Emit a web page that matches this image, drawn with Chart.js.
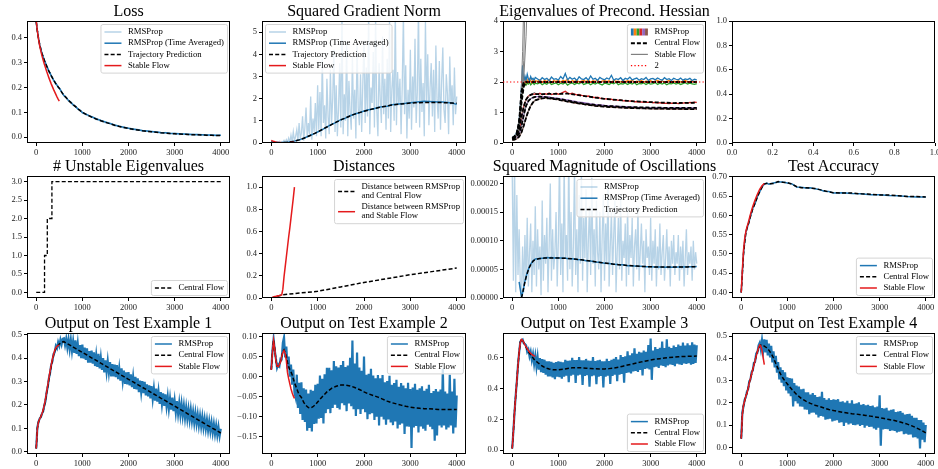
<!DOCTYPE html>
<html>
<head>
<meta charset="utf-8">
<title>RMSProp: central flow diagnostics</title>
<script src="https://cdn.jsdelivr.net/npm/chart.js@4.4.1/dist/chart.umd.min.js"></script>
<style>
  html, body { margin: 0; padding: 0; background: #fff; }
  body { position: relative; width: 938px; height: 469px; overflow: hidden;
         font-family: "Liberation Serif", "Times New Roman", serif; }
  canvas { position: absolute; }
  .title { position: absolute; width: 300px; text-align: center; font-size: 16px;
           line-height: 16px; color: #000; white-space: nowrap; }
</style>
</head>
<body>
<script>
// ---------- sample positions (training steps) ----------
function stepRange(a, b, s) { const r = []; for (let v = a; v <= b; v += s) r.push(v); return r; }
const denseSteps  = stepRange(0, 4000, 25);                       // raw RMSProp samples
const stableSteps = stepRange(0, 500, 25);                        // stable flow is integrated up to step 500
const flowSteps   = [...stepRange(0, 500, 25), ...stepRange(550, 1000, 50), ...stepRange(1100, 4000, 100)];
const eigSteps    = [...stepRange(0, 500, 25), ...stepRange(550, 4000, 50)];
const cfEigSteps  = [0,50,100,150,200,250,300,350,400,450,500,600,700,800,1000,1200,1400,1600,1800,2000,2500,3000,3500,4000];
const stepTicks   = [0, 1000, 2000, 3000, 4000];

// ---------- Loss ----------
const lossRaw = [0.465,0.43,0.397,0.37,0.354,0.334,0.324,0.307,0.299,0.284,0.277,0.263,0.258,0.245,0.24,0.228,0.224,0.213,0.21,0.2,0.198,
  0.183,0.166,0.160,0.146,0.141,0.129,0.125,0.113,0.109,0.098,
  0.088,0.083,0.071,0.068,0.058,0.056,0.046,0.045,0.037,0.037,0.030,0.031,0.024,0.026,0.020,0.022,0.016,0.019,0.013,0.016,0.011,0.013,0.009,0.012,0.008,0.010,0.007,0.009,0.006,0.008];
const lossAvg = [0.463,0.426,0.396,0.371,0.353,0.335,0.323,0.308,0.298,0.285,0.276,0.264,0.257,0.246,0.239,0.229,0.223,0.214,0.209,0.201,0.197,
  0.182,0.167,0.159,0.147,0.140,0.130,0.124,0.114,0.108,0.099,
  0.091,0.082,0.074,0.067,0.061,0.055,0.049,0.044,0.040,0.036,0.033,0.030,0.027,0.025,0.023,0.021,0.019,0.018,0.016,0.015,0.014,0.013,0.012,0.011,0.011,0.010,0.009,0.009,0.008,0.008];
const lossPred = [0.462,0.425,0.395,0.372,0.352,0.336,0.322,0.309,0.297,0.286,0.275,0.265,0.256,0.247,0.238,0.230,0.222,0.215,0.208,0.202,0.196,
  0.181,0.168,0.158,0.148,0.139,0.131,0.123,0.115,0.107,0.100,
  0.090,0.081,0.073,0.066,0.060,0.054,0.048,0.043,0.039,0.035,0.032,0.029,0.026,0.024,0.022,0.020,0.018,0.017,0.015,0.014,0.013,0.012,0.011,0.010,0.010,0.009,0.008,0.008,0.007,0.007];
const lossStable = [0.468,0.425,0.392,0.366,0.345,0.326,0.31,0.294,0.28,0.265,0.252,0.238,0.226,0.214,0.203,0.192,0.182,0.172,0.162,0.153,0.145];

// ---------- Squared gradient norm ----------
const gradRaw = [0.10,0.05,0.02,0.04,0.01,0.06,0.02,0.08,0.01,0.05,0.03,0.12,0.02,0.15,0.04,0.22,0.03,
  0.35,0.05,0.50,0.10,0.30,0.60,0.08,0.90,0.20,0.45,1.20,0.10,0.70,1.60,0.25,0.90,0.40,2.10,0.15,1.10,0.50,1.80,0.30,2.60,
  0.6,2.3,0.3,3.8,0.9,1.7,0.2,2.9,1.2,0.4,3.3,0.8,2.0,4.2,0.5,2.6,0.3,1.5,3.6,0.7,
  5.8,0.4,2.2,1.0,4.5,0.3,2.8,1.4,0.6,3.9,1.1,2.4,0.2,4.4,1.6,0.8,3.1,0.5,2.7,4.6,
  0.9,3.4,1.2,5.9,0.4,2.5,1.8,4.1,0.7,5.7,1.5,0.3,3.6,2.0,0.9,4.8,1.3,2.9,0.6,3.8,
  1.1,5.6,0.5,2.4,3.3,1.0,6.0,0.8,3.2,1.7,2.9,0.4,2.6,5.8,1.3,3.5,0.2,2.4,1.1,4.2,
  0.6,3.0,1.6,4.7,0.9,2.3,6.1,0.7,3.8,1.4,2.7,0.3,5.5,1.9,4.0,0.8,2.5,3.6,1.2,3.3,
  0.5,4.4,2.0,1.1,3.7,0.6,2.8,4.3,1.5,0.9,3.1,2.2,0.4,3.9,1.7,2.6,0.8,3.4,1.3,2.1];
const gradAvg = [0.06,0.05,0.04,0.03,0.025,0.02,0.018,0.016,0.016,0.017,0.019,0.021,0.024,0.028,0.033,0.039,0.046,0.054,0.063,0.073,0.084,
  0.11,0.14,0.176,0.214,0.257,0.304,0.351,0.399,0.447,0.498,
  0.60,0.73,0.84,0.93,1.05,1.12,1.23,1.31,1.36,1.44,1.50,1.53,1.60,1.64,1.66,1.72,1.75,1.77,1.79,1.82,1.84,1.86,1.88,1.87,1.86,1.85,1.85,1.83,1.80,1.74];
const gradPred = [0.03,0.02,0.015,0.01,0.01,0.01,0.01,0.01,0.012,0.014,0.016,0.019,0.022,0.026,0.031,0.037,0.044,0.052,0.061,0.071,0.082,
  0.11,0.14,0.175,0.215,0.258,0.303,0.35,0.398,0.448,0.5,
  0.61,0.72,0.83,0.94,1.04,1.13,1.22,1.30,1.37,1.43,1.49,1.54,1.59,1.63,1.67,1.71,1.74,1.76,1.78,1.80,1.81,1.82,1.83,1.83,1.83,1.83,1.82,1.81,1.80,1.79];
const gradStable = [0.12,0.095,0.075,0.058,0.045,0.035,0.028,0.022,0.018,0.015,0.013,0.012,0.011,0.011,0.012,0.013,0.015,0.018,0.021,0.025,0.03];

// ---------- Eigenvalues of the preconditioned Hessian (top 6) ----------
const eigBlue = [0.18,0.2,0.23,0.28,0.36,0.5,0.75,1.2,1.85,2.55,2.0,2.2,2.05,2.25,2.1,2.05,2.18,2.08,2.12,2.06,2.15,
  2.10,2.05,2.14,2.08,2.12,2.04,2.16,2.09,2.11,2.06, 2.18,2.10,2.28,2.07,2.15,2.09,2.13,2.05,2.17,2.10,
  2.08,2.14,2.06,2.20,2.09,2.12,2.05,2.15,2.10,2.07, 2.13,2.09,2.22,2.06,2.11,2.08,2.14,2.05,2.12,2.09,
  2.16,2.07,2.10,2.13,2.06,2.11,2.08,2.15,2.05,2.10, 2.12,2.07,2.13,2.09,2.06,2.14,2.08,2.11,2.05,2.12,
  2.09,2.07,2.13,2.06,2.10,2.08,2.12,2.05,2.09,2.07];
const eigOrange = [0.16,0.18,0.21,0.26,0.33,0.45,0.68,1.05,1.6,1.95,2.05,2.12,1.98,2.08,2.0,2.1,2.03,1.98,2.07,2.01,2.04,
  2.02,2.07,1.99,2.05,2.01,2.08,1.98,2.04,2.02,2.06, 2.00,2.05,2.03,2.09,1.99,2.04,2.02,2.06,2.00,2.03,
  2.05,2.01,2.07,1.99,2.04,2.02,2.06,2.00,2.03,2.05, 2.01,2.04,1.99,2.06,2.02,2.03,2.00,2.05,2.01,2.04,
  2.02,2.06,2.00,2.03,2.01,2.05,1.99,2.03,2.02,2.04, 2.00,2.03,2.05,2.01,2.04,1.99,2.02,2.05,2.00,2.03,
  2.01,2.04,2.00,2.03,2.05,2.01,2.02,2.04,2.00,2.03];
const eigGreen = [0.14,0.16,0.19,0.23,0.29,0.4,0.6,0.95,1.45,1.8,1.92,1.98,1.9,1.96,1.93,1.99,1.91,1.95,1.97,1.92,1.96,
  1.94,1.98,1.91,1.96,1.93,1.99,1.92,1.95,1.97,1.91, 1.96,1.93,1.98,1.90,1.95,1.97,1.92,1.96,1.94,1.99,
  1.92,1.95,1.97,1.91,1.96,1.93,1.98,1.94,1.90,1.96, 1.95,1.92,1.97,1.94,1.99,1.91,1.95,1.93,1.97,1.92,
  1.96,1.93,1.98,1.91,1.95,1.94,1.97,1.92,1.96,1.93, 1.95,1.98,1.92,1.96,1.93,1.97,1.91,1.95,1.94,1.97,
  1.93,1.96,1.92,1.95,1.98,1.93,1.96,1.94,1.92,1.95];
const eigRed = [0.15,0.16,0.18,0.21,0.26,0.34,0.45,0.62,0.85,1.03,1.2,1.33,1.42,1.49,1.53,1.56,1.58,1.6,1.61,1.6,1.62,
  1.60,1.63,1.58,1.62,1.60,1.64,1.59,1.61,1.63,1.60, 1.62,1.66,1.70,1.64,1.61,1.63,1.60,1.58,1.59,1.56,
  1.55,1.53,1.54,1.51,1.50,1.49,1.50,1.47,1.46,1.45, 1.45,1.43,1.44,1.41,1.42,1.40,1.41,1.38,1.39,1.38,
  1.37,1.38,1.35,1.36,1.34,1.35,1.33,1.34,1.33,1.34, 1.32,1.33,1.31,1.32,1.30,1.31,1.30,1.29,1.31,1.30,
  1.31,1.29,1.30,1.31,1.32,1.30,1.33,1.32,1.34,1.33];
const eigPurple = [0.14,0.15,0.16,0.18,0.21,0.26,0.32,0.42,0.55,0.73,0.92,1.08,1.22,1.31,1.38,1.42,1.45,1.47,1.49,1.5,1.52,
  1.52,1.53,1.51,1.52,1.50,1.51,1.49,1.48,1.47,1.46, 1.45,1.44,1.42,1.41,1.40,1.38,1.37,1.35,1.34,1.33,
  1.32,1.31,1.30,1.28,1.27,1.26,1.25,1.25,1.24,1.23, 1.22,1.22,1.21,1.20,1.21,1.19,1.20,1.18,1.19,1.18,
  1.17,1.18,1.17,1.16,1.17,1.16,1.15,1.16,1.17,1.15, 1.16,1.15,1.16,1.14,1.15,1.16,1.15,1.14,1.15,1.16,
  1.15,1.14,1.16,1.15,1.14,1.15,1.16,1.15,1.14,1.16];
const eigBrown = [0.1,0.1,0.11,0.12,0.14,0.17,0.21,0.27,0.35,0.45,0.57,0.7,0.83,0.95,1.05,1.14,1.22,1.28,1.33,1.37,1.4,
  1.43,1.45,1.46,1.47,1.47,1.46,1.45,1.44,1.43,1.42, 1.40,1.39,1.37,1.36,1.34,1.33,1.31,1.30,1.29,1.28,
  1.27,1.26,1.25,1.24,1.23,1.22,1.21,1.21,1.20,1.19, 1.19,1.18,1.18,1.17,1.17,1.16,1.16,1.15,1.15,1.15,
  1.14,1.14,1.15,1.13,1.14,1.13,1.14,1.12,1.13,1.13, 1.12,1.13,1.12,1.11,1.12,1.13,1.12,1.11,1.12,1.11,
  1.12,1.11,1.12,1.10,1.11,1.12,1.11,1.10,1.12,1.11];
const cfEig1 = [0.17,0.22,0.34,0.72,1.70,2.00,2.00,2.00,2.00,2.00,2.00,2.00,2.00,2.00,2.00,2.00,2.00,2.00,2.00,2.00,2.00,2.00,2.00,2.00];
const cfEig2 = [0.15,0.20,0.30,0.62,1.50,1.95,2.00,2.00,2.00,2.00,2.00,2.00,2.00,2.00,2.00,2.00,2.00,2.00,2.00,2.00,2.00,2.00,2.00,2.00];
const cfEig3 = [0.13,0.18,0.27,0.55,1.30,1.85,1.99,2.00,2.00,2.00,2.00,2.00,2.00,2.00,2.00,2.00,2.00,2.00,2.00,2.00,2.00,2.00,2.00,2.00];
const cfEig4 = [0.15,0.18,0.26,0.45,0.85,1.2,1.42,1.53,1.58,1.6,1.6,1.6,1.6,1.61,1.61,1.62,1.58,1.53,1.49,1.45,1.38,1.34,1.31,1.32];
const cfEig5 = [0.14,0.16,0.21,0.32,0.55,0.92,1.22,1.38,1.45,1.49,1.51,1.52,1.51,1.48,1.45,1.39,1.33,1.28,1.25,1.22,1.18,1.16,1.15,1.15];
const cfEig6 = [0.1,0.11,0.14,0.21,0.35,0.57,0.83,1.05,1.22,1.33,1.40,1.45,1.47,1.46,1.42,1.36,1.31,1.26,1.22,1.19,1.15,1.13,1.12,1.11];
const sfEigSteps1 = [0,50,100,150,200,225,250];
const sfEig1 = [0.17,0.22,0.34,0.75,1.9,3.0,4.6];
const sfEigSteps2 = [0,50,100,150,200,250,275];
const sfEig2 = [0.15,0.2,0.3,0.62,1.5,2.7,4.5];
const sfEigSteps3 = [0,50,100,150,200,250,300,325];
const sfEig3 = [0.13,0.18,0.27,0.55,1.3,2.1,3.5,4.6];
const sfEigStepsLow = [0,100,200,300,400,500];
const sfEig4 = [0.15,0.26,0.85,1.42,1.6,1.66];
const sfEig5 = [0.14,0.21,0.55,1.22,1.46,1.53];
const sfEig6 = [0.1,0.14,0.35,0.83,1.22,1.41];
const stabilityThreshold = 2;

// ---------- # unstable eigenvalues ----------
const unstableSteps = [0, 180, 240, 340, 4000];
const unstableCount = [0, 1, 2, 3, 3];

// ---------- Distances ----------
const distSteps = [0,250,500,1000,1500,2000,2500,3000,3500,4000];
const distCentral = [0,0.03,0.04,0.06,0.1,0.14,0.175,0.21,0.24,0.27];
const distStable = [0,0.005,0.01,0.013,0.015,0.018,0.02,0.022,0.025,0.028,0.08,0.19,0.28,0.37,0.46,0.55,0.63,0.72,0.81,0.9,1.0];

// ---------- Squared magnitude of oscillations ----------
const oscRaw = [0.00022,0.00003,0.00025,0.00001,0.00018,0.00004,0.00012,0.00002,0.000005,
  0.00009,0.00001,0.00011,0.00003,0.00014,0.00002,0.00008,0.00013,0.00001,0.00010,0.00004,0.00016,
  0.00002,0.00012,0.00005,0.00009,0.000005,0.00017,0.00003,0.00011,0.00006,0.00014,0.00001,0.00009,0.00020,0.00003,0.00012,0.00005,0.00008,0.00015,0.00002,0.00010,
  0.00025,0.00004,0.00013,0.00001,0.00024,0.00007,0.00011,0.00003,0.00026,0.00005,0.00015,0.00002,0.00009,0.00023,0.00004,0.00012,0.00001,0.00018,0.00006,0.00022,
  0.00003,0.00014,0.00007,0.00019,0.00001,0.00010,0.00016,0.00004,0.00021,0.00006,0.00012,0.00002,0.00017,0.00008,0.00005,0.00015,0.00001,0.00011,0.00018,0.00003,
  0.00013,0.00006,0.00020,0.00002,0.00009,0.00015,0.00004,0.00011,0.00017,0.00001,0.00008,0.00014,0.00005,0.00018,0.00003,0.00010,0.00007,0.00013,0.00002,0.00016,
  0.00004,0.00011,0.00007,0.00014,0.00002,0.00009,0.00012,0.00005,0.00016,0.00003,0.00008,0.00013,0.00006,0.00010,0.00001,0.00012,0.00007,0.00009,0.00004,0.00014,
  0.00003,0.00010,0.00006,0.00012,0.00002,0.00009,0.00005,0.00013,0.00004,0.00008,0.00011,0.00003,0.00007,0.00012,0.00005,0.00009,0.00002,0.00010,0.00006,0.00011,
  0.00004,0.00008,0.00006,0.00011,0.00003,0.00009,0.00005,0.00010,0.00002,0.00007,0.00012,0.00004,0.00008,0.00006,0.00009,0.00003,0.00010,0.00005,0.00008,0.00006];
const oscAvgSteps = flowSteps.slice(6);     // from step 150
const oscAvg = [0.000028,0.000015,0.000002,0.000009,0.000019,0.000029,0.000037,0.000044,0.00005,0.000055,0.000059,0.000062,0.000065,0.000066,0.000068,
  0.0000685,0.000069,0.0000695,0.00007,0.0000705,0.0000702,0.0000705,0.00007,0.0000702,0.0000698,
  0.0000697,0.0000688,0.0000685,0.0000672,0.0000668,0.0000652,0.0000647,0.000063,0.0000623,0.0000608,0.0000601,0.0000588,0.0000583,0.000058,0.0000565,
  0.0000563,0.0000555,0.0000553,0.0000546,0.0000546,0.000054,0.0000541,0.0000538,0.0000541,0.0000539,0.0000542,0.000054,0.0000544,0.0000544,0.000055];
const oscPredSteps = flowSteps.slice(8);    // from step 200
const oscPred = [0,0.000008,0.000018,0.000028,0.000036,0.000043,0.000049,0.000054,0.000058,0.000061,0.000064,0.000066,0.000067,
  0.000068,0.0000688,0.0000693,0.0000697,0.00007,0.00007,0.00007,0.00007,0.00007,0.0000698,
  0.0000695,0.000069,0.0000683,0.0000675,0.0000667,0.0000656,0.0000645,0.0000633,0.0000621,0.000061,0.00006,0.000059,0.0000582,0.0000575,0.0000568,
  0.0000562,0.0000557,0.0000552,0.0000548,0.0000545,0.0000542,0.000054,0.000054,0.000054,0.000054,0.0000541,0.0000542,0.0000543,0.0000545,0.0000547];

// ---------- Test accuracy ----------
const accSteps = [0,25,50,75,100,125,150,200,250,300,350,400,450,500,550,600,700,800,900,1000,1100,1200,1300,1400,1500,1600,1700,1800,1900,2000,2200,2400,2600,2800,3000,3200,3400,3600,3800,4000];
const accRms = [0.40,0.452,0.502,0.532,0.556,0.566,0.576,0.597,0.618,0.631,0.649,0.661,0.674,0.681,0.684,0.681,0.684,0.687,0.687,0.684,0.682,0.674,0.673,0.671,0.672,0.669,0.667,0.663,0.662,0.658,0.659,0.657,0.656,0.654,0.654,0.652,0.651,0.649,0.648,0.648];
const accCentral = [0.40,0.45,0.50,0.53,0.555,0.567,0.575,0.598,0.617,0.632,0.648,0.662,0.673,0.682,0.683,0.682,0.683,0.688,0.686,0.685,0.681,0.675,0.672,0.672,0.671,0.670,0.667,0.664,0.661,0.659,0.658,0.658,0.656,0.655,0.653,0.653,0.651,0.649,0.649,0.648];
const accStableSteps = [0,25,50,75,100,125,150,200,250,300,350,400,450,500];
const accStable = [0.40,0.46,0.51,0.54,0.558,0.57,0.58,0.603,0.623,0.64,0.655,0.668,0.677,0.683];

// ---------- Network output on four test examples ----------
const out1Rms = [0.014,0.105,0.128,0.142,0.148,0.163,0.172,0.198,0.216,0.254,0.276,0.314,0.336,0.372,0.385,0.418,0.424,0.452,0.442,0.468,0.452,0.478,0.458,0.482,
  0.484,0.455,0.482,0.444,0.480,0.437,0.478,0.430,0.472,0.422,0.476,0.418,0.462,0.408,0.455,0.400,
  0.458,0.398,0.445,0.392,0.441,0.380,0.430,0.380,0.432,0.376,0.424,0.366,0.413,0.362,0.418,0.356,
  0.402,0.350,0.400,0.339,0.390,0.340,0.388,0.338,0.383,0.322,0.374,0.322,0.372,0.318,0.370,0.310,
  0.356,0.304,0.356,0.302,0.346,0.290,0.339,0.288,0.340,0.283,0.330,0.276,0.321,0.268,0.320,0.266,
  0.313,0.254,0.304,0.254,0.302,0.250,0.298,0.241,0.288,0.236,0.283,0.228,0.280,0.226,0.270,0.218,
  0.270,0.214,0.258,0.204,0.255,0.203,0.249,0.196,0.245,0.193,0.236,0.183,0.228,0.180,0.231,0.173,
  0.218,0.168,0.216,0.163,0.208,0.157,0.204,0.153,0.196,0.144,0.189,0.140,0.182,0.136,0.180,0.131,
  0.170,0.123,0.166,0.120,0.159,0.113,0.153,0.108,0.149,0.103,0.141,0.098,0.136,0.092,0.130,0.088,
  0.125,0.081,0.118,0.076,0.112,0.071,0.106,0.067,0.098];
const out1Central = [0.014,0.10,0.128,0.14,0.15,0.162,0.175,0.195,0.22,0.25,0.28,0.31,0.34,0.365,0.39,0.41,0.43,0.44,0.45,0.455,0.46,
  0.468,0.470,0.464,0.4585,0.453,0.447,0.441,0.436,0.430,0.424,
  0.413,0.401,0.390,0.378,0.367,0.355,0.344,0.332,0.321,0.309,0.298,0.287,0.275,0.264,0.252,0.241,0.229,0.218,0.206,0.195,0.183,0.172,0.160,0.149,0.137,0.126,0.114,0.103,0.092,0.080];
const out1Stable = [0.014,0.10,0.128,0.14,0.15,0.163,0.178,0.2,0.225,0.255,0.285,0.315,0.345,0.37,0.395,0.415,0.432,0.443,0.45,0.453,0.455];

const out2Rms = [0.018,0.065,0.094,0.066,0.045,0.022,0.030,0.026,0.045,0.044,0.085,0.098,0.048,0.075,0.020,0.050,0.000,0.030,-0.020,0.018,-0.040,
  -0.052,0.005,-0.078,-0.015,-0.093,-0.014,-0.108,-0.029,-0.113,-0.032,-0.135,-0.042,-0.128,-0.033,-0.137,-0.035,
  -0.118,-0.020,-0.117,-0.018,-0.105,0.003,-0.103,-0.005,-0.117,0.006,-0.091,0.022,-0.081,0.022,-0.091,0.016,
  -0.078,0.039,-0.070,0.026,-0.078,0.023,-0.082,0.029,-0.066,0.039,-0.071,0.024,-0.086,0.028,-0.067,0.047,
  -0.074,0.090,-0.081,0.033,-0.098,0.060,-0.081,0.023,-0.093,0.015,-0.081,0.050,-0.089,0.005,-0.106,0.007,
  -0.094,0.020,-0.091,0.003,-0.108,-0.004,-0.100,0.004,-0.122,-0.004,-0.100,0.004,-0.107,-0.014,-0.120,-0.011,
  -0.107,0.002,-0.114,-0.020,-0.121,-0.016,-0.112,-0.008,-0.129,-0.025,-0.120,-0.016,-0.117,-0.022,-0.143,-0.029,
  -0.124,-0.015,-0.125,-0.031,-0.178,-0.027,-0.127,-0.018,-0.123,-0.033,-0.139,-0.029,-0.124,-0.024,-0.130,-0.035,
  -0.135,-0.030,-0.120,-0.020,-0.125,-0.041,-0.131,-0.036,-0.160,-0.031,-0.147,-0.037,-0.122,-0.032,-0.127,0.020,
  -0.122,-0.037,-0.132,-0.042,-0.127,0.005,-0.122,-0.037,-0.142,-0.005,-0.127,-0.047];
const out2Central = [0.017,0.06,0.092,0.07,0.04,0.026,0.025,0.03,0.037,0.05,0.062,0.067,0.06,0.05,0.035,0.025,0.018,0.012,0.005,-0.005,-0.015,
  -0.030,-0.045,-0.052,-0.064,-0.072,-0.077,-0.078,-0.075,-0.070,-0.063,
  -0.050,-0.038,-0.029,-0.024,-0.021,-0.021,-0.023,-0.027,-0.032,-0.038,-0.043,-0.047,-0.051,-0.056,-0.061,-0.065,-0.068,-0.071,-0.074,-0.076,-0.078,-0.079,-0.080,-0.080,-0.081,-0.082,-0.082,-0.082,-0.082,-0.082];
const out2Stable = [0.017,0.06,0.09,0.068,0.04,0.026,0.025,0.03,0.037,0.05,0.06,0.065,0.058,0.04,0.01,-0.005,-0.018,-0.03,-0.04,-0.048,-0.054];

const out3Rms = [0.010,0.125,0.245,0.355,0.445,0.555,0.635,0.705,0.715,0.720,0.695,0.690,
  0.682,0.640,0.655,0.610,0.640,0.585,0.625,0.560,0.613,0.541,0.605,0.524,0.598,0.507,0.592,0.502,
  0.588,0.490,0.577,0.479,0.577,0.480,0.574,0.473,0.567,0.462,0.572,0.477,0.578,0.474,0.575,0.465,
  0.571,0.477,0.588,0.484,0.581,0.442,0.583,0.484,0.600,0.490,0.586,0.436,0.586,0.486,0.605,0.490,
  0.585,0.424,0.584,0.483,0.593,0.488,0.582,0.412,0.581,0.481,0.605,0.485,0.579,0.429,0.584,0.478,
  0.588,0.483,0.578,0.408,0.578,0.478,0.594,0.484,0.580,0.431,0.587,0.483,0.594,0.490,0.606,0.448,
  0.589,0.491,0.618,0.495,0.606,0.438,0.610,0.502,0.643,0.505,0.617,0.498,0.630,0.512,0.663,0.515,
  0.627,0.509,0.640,0.522,0.634,0.485,0.647,0.528,0.640,0.531,0.683,0.524,0.726,0.457,0.648,0.540,
  0.671,0.542,0.658,0.534,0.665,0.551,0.707,0.548,0.664,0.540,0.721,0.551,0.672,0.558,0.664,0.554,
  0.680,0.546,0.671,0.562,0.687,0.558,0.678,0.554,0.699,0.564,0.680,0.560,0.695,0.565,0.681,0.556,
  0.701,0.561,0.687,0.567,0.682];
const out3Central = [0.01,0.12,0.25,0.35,0.45,0.55,0.64,0.70,0.72,0.715,0.70,0.685,0.67,0.655,0.64,0.63,0.62,0.61,0.60,0.59,0.583,
  0.57,0.558,0.547,0.538,0.532,0.527,0.524,0.522,0.522,0.523,
  0.526,0.531,0.535,0.536,0.535,0.533,0.531,0.529,0.528,0.528,0.53,0.534,0.539,0.546,0.553,0.56,0.567,0.574,0.58,0.586,0.591,0.595,0.599,0.602,0.605,0.607,0.609,0.61,0.611,0.612];
const out3Stable = [0.01,0.12,0.25,0.35,0.45,0.55,0.64,0.70,0.72,0.715,0.70,0.685,0.672,0.66,0.648,0.638,0.63,0.623,0.617,0.613,0.61];

const out4Rms = [0.040,0.160,0.185,0.215,0.226,0.252,0.262,0.298,0.305,0.338,0.345,0.380,0.385,0.422,0.425,0.458,
  0.470,0.440,0.482,0.433,0.485,0.427,0.483,0.413,0.467,0.405,0.457,0.382,0.432,0.360,0.412,0.336,
  0.383,0.306,0.360,0.291,0.348,0.275,0.338,0.256,0.315,0.243,0.312,0.231,0.310,0.184,0.289,0.208,
  0.278,0.198,0.274,0.185,0.261,0.183,0.264,0.171,0.248,0.170,0.248,0.150,0.238,0.156,0.244,0.157,
  0.235,0.148,0.227,0.135,0.229,0.142,0.250,0.139,0.222,0.125,0.214,0.127,0.221,0.130,0.213,0.117,
  0.216,0.120,0.214,0.123,0.217,0.111,0.205,0.114,0.208,0.097,0.202,0.111,0.210,0.104,0.199,0.108,
  0.212,0.101,0.196,0.100,0.199,0.104,0.203,0.097,0.192,0.101,0.195,0.089,0.189,0.098,0.192,0.092,
  0.186,0.094,0.188,0.086,0.180,0.080,0.184,0.089,0.234,0.008,0.177,0.081,0.175,0.084,0.178,0.082,
  0.166,0.075,0.169,0.077,0.171,0.075,0.159,0.068,0.162,0.071,0.164,0.073,0.156,0.060,0.148,0.062,
  0.150,0.058,0.151,0.059,0.142,0.045,0.133,0.046,0.133,0.041,0.123,-0.004,0.123,0.035,0.112,0.024,
  0.101];
const out4Central = [0.04,0.15,0.19,0.21,0.23,0.245,0.265,0.29,0.31,0.33,0.35,0.37,0.39,0.41,0.43,0.445,0.455,0.46,0.46,0.458,0.455,
  0.448,0.437,0.422,0.402,0.377,0.353,0.33,0.313,0.298,0.285,
  0.26,0.238,0.221,0.208,0.198,0.19,0.184,0.177,0.171,0.166,0.162,0.158,0.155,0.152,0.15,0.147,0.144,0.141,0.137,0.134,0.130,0.126,0.122,0.117,0.111,0.105,0.097,0.088,0.078,0.066];
const out4Stable = [0.04,0.15,0.19,0.21,0.23,0.245,0.265,0.29,0.31,0.33,0.35,0.37,0.39,0.41,0.43,0.448,0.46,0.455,0.435,0.405,0.372];

// ---------- styling & layout ----------
const FONT = '"Liberation Serif", "Times New Roman", serif';
const BLUE = '#1f77b4', LIGHT = 'rgba(31,119,180,0.32)', RED = '#e41a1c', GREY = '#808080';
const TAB6 = ['#1f77b4', '#ff7f0e', '#2ca02c', '#d62728', '#9467bd', '#8c564b'];
const DASH = [4, 2.2];
const COLS = [[27, 230], [262, 466], [503, 706], [732, 935]];
const ROWS = [[21, 143], [176, 298], [333, 454]];
const ML = 44, MR = 10, MT = 8, MB = 22;

Chart.defaults.font.family = FONT;
Chart.defaults.color = '#000';

function series(xs, ys, color, extra) {
  return Object.assign({
    data: ys.map((y, i) => ({ x: xs[i], y })),
    borderColor: color, borderWidth: 1.5, pointRadius: 0, fill: false, tension: 0
  }, extra || {});
}

function roundedRect(ctx, x, y, w, h, r) {
  ctx.moveTo(x + r, y);
  ctx.arcTo(x + w, y, x + w, y + h, r);
  ctx.arcTo(x + w, y + h, x, y + h, r);
  ctx.arcTo(x, y + h, x, y, r);
  ctx.arcTo(x, y, x + w, y, r);
  ctx.closePath();
}

// full box around the plotting area
const framePlugin = {
  id: 'frame',
  afterDatasetsDraw(chart) {
    const { ctx, chartArea: a } = chart;
    ctx.save();
    ctx.strokeStyle = '#000';
    ctx.lineWidth = 1;
    ctx.strokeRect(Math.round(a.left) + 0.5, Math.round(a.top) + 0.5,
                   Math.round(a.right - a.left) - 1, Math.round(a.bottom - a.top) - 1);
    ctx.restore();
  }
};

// horizontal reference line at a y value
const refLinePlugin = {
  id: 'refLine',
  afterDatasetsDraw(chart, args, opts) {
    if (!opts || opts.value === undefined) return;
    const { ctx, chartArea: a } = chart;
    const y = chart.scales.y.getPixelForValue(opts.value);
    ctx.save();
    ctx.beginPath();
    ctx.rect(a.left, a.top, a.right - a.left, a.bottom - a.top);
    ctx.clip();
    ctx.strokeStyle = opts.color;
    ctx.lineWidth = 1.2;
    ctx.setLineDash([1.3, 2.2]);
    ctx.beginPath();
    ctx.moveTo(a.left, y);
    ctx.lineTo(a.right, y);
    ctx.stroke();
    ctx.restore();
  }
};

// legend drawn inside the plotting area
const boxLegendPlugin = {
  id: 'boxLegend',
  afterDraw(chart, args, opts) {
    const items = opts && opts.items;
    if (!items || !items.length) return;
    const ctx = chart.ctx, a = chart.chartArea;
    const fs = 8.7, lh = 9, gap = 2.2, pad = 3, hl = 17, tp = 6.5, inset = 3;
    ctx.save();
    ctx.font = fs + 'px ' + FONT;
    let tw = 0, h = 2 * pad;
    items.forEach((it, i) => {
      const lines = it.label.split('\n');
      lines.forEach(l => { tw = Math.max(tw, ctx.measureText(l).width); });
      h += lines.length * lh + (i ? gap : 0);
    });
    const w = pad + hl + tp + tw + pad + 1;
    const x = opts.loc[1] === 'r' ? a.right - inset - w : a.left + inset;
    const y = opts.loc[0] === 'u' ? a.top + inset : a.bottom - inset - h;
    ctx.beginPath();
    roundedRect(ctx, x + 0.5, y + 0.5, w, h, 2);
    ctx.fillStyle = 'rgba(255,255,255,0.8)';
    ctx.fill();
    ctx.strokeStyle = '#d4d4d4';
    ctx.lineWidth = 1;
    ctx.stroke();
    let cy = y + pad;
    items.forEach(it => {
      const lines = it.label.split('\n');
      const mid = cy + lines.length * lh / 2 + 0.5;
      const hx = x + pad + 1;
      if (it.multi) {
        const sw = hl / it.multi.length;
        it.multi.forEach((c, k) => { ctx.fillStyle = c; ctx.fillRect(hx + k * sw, mid - 3.5, sw, 7); });
      } else {
        ctx.beginPath();
        ctx.setLineDash(it.dash || []);
        ctx.strokeStyle = it.color;
        ctx.lineWidth = it.width || 1.5;
        ctx.moveTo(hx, mid);
        ctx.lineTo(hx + hl, mid);
        ctx.stroke();
        ctx.setLineDash([]);
      }
      ctx.fillStyle = '#000';
      ctx.textBaseline = 'middle';
      ctx.textAlign = 'left';
      lines.forEach((l, k) => ctx.fillText(l, hx + hl + tp, cy + k * lh + lh / 2 + 0.5));
      cy += lines.length * lh + gap;
    });
    ctx.restore();
  }
};

Chart.register(framePlugin, refLinePlugin, boxLegendPlugin);

function tickFormat(dec) {
  return v => (Math.abs(v) < 1e-12 ? 0 : v).toFixed(dec).replace('-', '\u2212');
}

function axisOptions(spec, horizontal) {
  return {
    type: 'linear', min: spec.min, max: spec.max, bounds: 'data',
    afterBuildTicks: s => { s.ticks = spec.ticks.map(v => ({ value: v })); },
    afterFit: s => { if (horizontal) s.height = MB; else s.width = ML; },
    ticks: { callback: tickFormat(spec.dec), autoSkip: false, maxRotation: 0, minRotation: 0,
             padding: horizontal ? 1.5 : 2, color: '#1a1a1a', font: { size: 8.5, family: FONT } },
    grid: { display: true, drawOnChartArea: false, drawTicks: true, tickLength: 3, tickWidth: 1, tickColor: '#000' },
    border: { display: false }
  };
}

const stepAxis = { min: -200, max: 4200, ticks: stepTicks, dec: 0 };

function addPanel(col, row, p) {
  const [x0, x1] = COLS[col], [y0, y1] = ROWS[row];
  const W = x1 - x0 + ML + MR, H = y1 - y0 + MT + MB;
  const cv = document.createElement('canvas');
  cv.width = W; cv.height = H;
  cv.style.left = (x0 - ML) + 'px'; cv.style.top = (y0 - MT) + 'px';
  cv.style.width = W + 'px'; cv.style.height = H + 'px';
  document.body.appendChild(cv);

  const t = document.createElement('div');
  t.className = 'title';
  t.textContent = p.title;
  t.style.left = ((x0 + x1) / 2 - 150) + 'px';
  t.style.top = (y0 - 18) + 'px';
  document.body.appendChild(t);

  new Chart(cv, {
    type: 'line',
    data: { datasets: p.datasets || [] },
    options: {
      responsive: false, animation: false, devicePixelRatio: 1, events: [],
      parsing: false, normalized: true,
      layout: { padding: { left: 0, top: MT, right: MR, bottom: 0 } },
      plugins: {
        legend: { display: false }, tooltip: { enabled: false }, title: { display: false },
        boxLegend: p.legend || {}, refLine: p.ref || {}
      },
      scales: { x: axisOptions(p.x || stepAxis, true), y: axisOptions(p.y, false) }
    }
  });
}

const rmsLegend = [
  { label: 'RMSProp', color: LIGHT },
  { label: 'RMSProp (Time Averaged)', color: BLUE },
  { label: 'Trajectory Prediction', color: '#000', dash: DASH },
  { label: 'Stable Flow', color: RED }
];
const outLegend = [
  { label: 'RMSProp', color: BLUE },
  { label: 'Central Flow', color: '#000', dash: DASH },
  { label: 'Stable Flow', color: RED }
];

// Row 1
addPanel(0, 0, {
  title: 'Loss',
  y: { min: -0.023, max: 0.466, ticks: [0, 0.1, 0.2, 0.3, 0.4], dec: 1 },
  legend: { loc: 'ur', items: rmsLegend },
  datasets: [
    series(stableSteps, lossStable, RED),
    series(flowSteps, lossPred, '#000', { borderDash: DASH }),
    series(flowSteps, lossAvg, BLUE),
    series(flowSteps, lossRaw, LIGHT)
  ]
});
addPanel(1, 0, {
  title: 'Squared Gradient Norm',
  y: { min: 0, max: 5.5, ticks: [0, 1, 2, 3, 4, 5], dec: 0 },
  legend: { loc: 'ul', items: rmsLegend },
  datasets: [
    series(stableSteps, gradStable, RED),
    series(flowSteps, gradPred, '#000', { borderDash: DASH }),
    series(flowSteps, gradAvg, BLUE),
    series(denseSteps, gradRaw, LIGHT, { borderWidth: 1.3 })
  ]
});
addPanel(2, 0, {
  title: 'Eigenvalues of Precond. Hessian',
  y: { min: 0, max: 4, ticks: [0, 1, 2, 3, 4], dec: 0 },
  ref: { value: stabilityThreshold, color: '#ff0000' },
  legend: { loc: 'ur', items: [
    { label: 'RMSProp', multi: TAB6 },
    { label: 'Central Flow', color: '#000', dash: [4, 2], width: 2 },
    { label: 'Stable Flow', color: GREY, width: 1.2 },
    { label: String(stabilityThreshold), color: '#ff0000', dash: [1.3, 2.2], width: 1.2 }
  ] },
  datasets: [
    ...[cfEig1, cfEig2, cfEig3, cfEig4, cfEig5, cfEig6].map(v => series(cfEigSteps, v, '#000', { borderDash: [4, 2], borderWidth: 1.8 })),
    series(sfEigSteps1, sfEig1, GREY, { borderWidth: 1 }),
    series(sfEigSteps2, sfEig2, GREY, { borderWidth: 1 }),
    series(sfEigSteps3, sfEig3, GREY, { borderWidth: 1 }),
    series(sfEigStepsLow, sfEig4, GREY, { borderWidth: 1 }),
    series(sfEigStepsLow, sfEig5, GREY, { borderWidth: 1 }),
    series(sfEigStepsLow, sfEig6, GREY, { borderWidth: 1 }),
    ...[eigBlue, eigOrange, eigGreen, eigRed, eigPurple, eigBrown].map((v, i) => series(eigSteps, v, TAB6[i], { borderWidth: 1.3 }))
  ]
});
addPanel(3, 0, {
  title: '',
  x: { min: 0, max: 1, ticks: [0, 0.2, 0.4, 0.6, 0.8, 1.0], dec: 1 },
  y: { min: 0, max: 1, ticks: [0, 0.2, 0.4, 0.6, 0.8, 1.0], dec: 1 },
  datasets: []
});

// Row 2
addPanel(0, 1, {
  title: '# Unstable Eigenvalues',
  y: { min: -0.15, max: 3.15, ticks: [0, 0.5, 1, 1.5, 2, 2.5, 3], dec: 1 },
  legend: { loc: 'lr', items: [{ label: 'Central Flow', color: '#000', dash: DASH, width: 1.3 }] },
  datasets: [series(unstableSteps, unstableCount, '#000', { borderDash: DASH, borderWidth: 1.3, stepped: 'before' })]
});
addPanel(1, 1, {
  title: 'Distances',
  y: { min: 0, max: 1.1, ticks: [0, 0.2, 0.4, 0.6, 0.8, 1.0], dec: 1 },
  legend: { loc: 'ur', items: [
    { label: 'Distance between RMSProp\nand Central Flow', color: '#000', dash: DASH },
    { label: 'Distance between RMSProp\nand Stable Flow', color: RED }
  ] },
  datasets: [
    series(stableSteps, distStable, RED),
    series(distSteps, distCentral, '#000', { borderDash: DASH })
  ]
});
addPanel(2, 1, {
  title: 'Squared Magnitude of Oscillations',
  y: { min: 0, max: 0.000213, ticks: [0, 0.00005, 0.0001, 0.00015, 0.0002], dec: 5 },
  legend: { loc: 'ur', items: rmsLegend.slice(0, 3) },
  datasets: [
    series(oscPredSteps, oscPred, '#000', { borderDash: DASH }),
    series(oscAvgSteps, oscAvg, BLUE),
    series(denseSteps, oscRaw, LIGHT, { borderWidth: 1.3 })
  ]
});
addPanel(3, 1, {
  title: 'Test Accuracy',
  y: { min: 0.3856, max: 0.7024, ticks: [0.40, 0.45, 0.50, 0.55, 0.60, 0.65, 0.70], dec: 2 },
  legend: { loc: 'lr', items: outLegend },
  datasets: [
    series(accStableSteps, accStable, RED),
    series(accSteps, accCentral, '#000', { borderDash: DASH }),
    series(accSteps, accRms, BLUE)
  ]
});

// Row 3
const outputs = [
  { title: 'Output on Test Example 1', rms: out1Rms, cf: out1Central, sf: out1Stable, loc: 'ur',
    y: { min: -0.0096, max: 0.507, ticks: [0, 0.1, 0.2, 0.3, 0.4, 0.5], dec: 1 } },
  { title: 'Output on Test Example 2', rms: out2Rms, cf: out2Central, sf: out2Stable, loc: 'ur',
    y: { min: -0.193, max: 0.109, ticks: [-0.15, -0.10, -0.05, 0, 0.05, 0.10], dec: 2 } },
  { title: 'Output on Test Example 3', rms: out3Rms, cf: out3Central, sf: out3Stable, loc: 'lr',
    y: { min: -0.026, max: 0.762, ticks: [0, 0.2, 0.4, 0.6], dec: 1 } },
  { title: 'Output on Test Example 4', rms: out4Rms, cf: out4Central, sf: out4Stable, loc: 'ur',
    y: { min: -0.029, max: 0.514, ticks: [0, 0.1, 0.2, 0.3, 0.4, 0.5], dec: 1 } }
];
outputs.forEach((o, i) => addPanel(i, 2, {
  title: o.title, y: o.y,
  legend: { loc: o.loc, items: outLegend },
  datasets: [
    series(stableSteps, o.sf, RED),
    series(flowSteps, o.cf, '#000', { borderDash: DASH }),
    series(denseSteps, o.rms, BLUE, { borderWidth: 2.2 })
  ]
}));
</script>
</body>
</html>
